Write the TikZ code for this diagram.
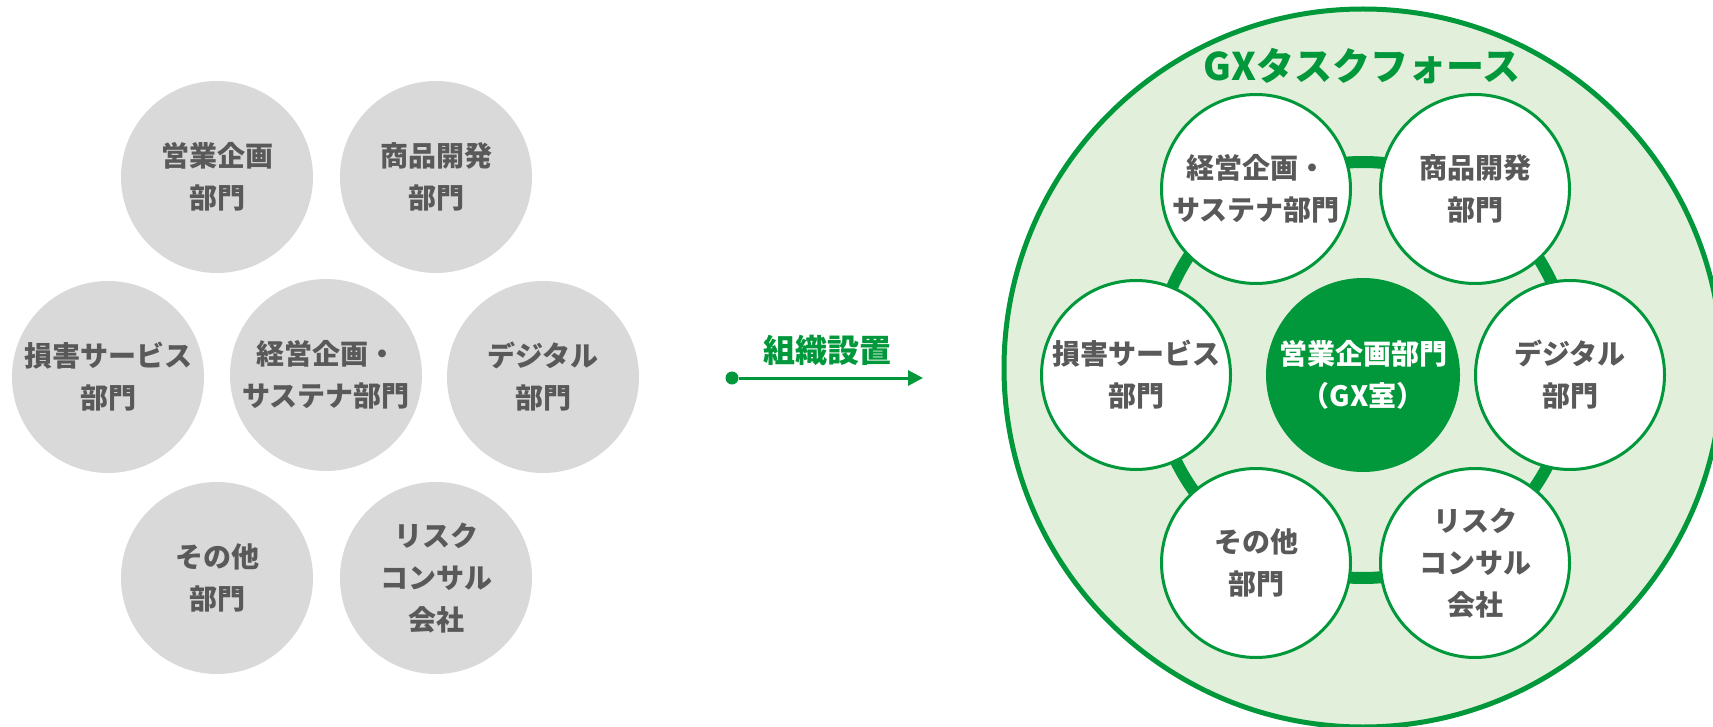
\documentclass[tikz,border=0pt]{standalone}
\usepackage{fontspec}
\setmainfont{Noto Sans CJK JP}
\usetikzlibrary{arrows.meta}
\definecolor{gxgreen}{HTML}{00983A}
\definecolor{gxlight}{HTML}{E2EFDA}
\definecolor{cgray}{HTML}{D9D9D9}
\definecolor{tgray}{HTML}{595959}
\begin{document}
\begin{tikzpicture}[x=1pt,y=-1pt,
  lbl/.style={font=\fontsize{28}{42}\selectfont\bfseries, text=tgray, align=center},
  oldunit/.style={circle, fill=cgray, minimum size=192pt, inner sep=0pt, lbl},
  newunit/.style={circle, draw=gxgreen, line width=3pt, fill=white, minimum size=189pt, inner sep=0pt, lbl},
  core/.style={circle, fill=gxgreen, minimum size=194pt, inner sep=0pt, lbl, text=white},
  ring/.style={draw=gxgreen, line width=12pt},
  team/.style={draw=gxgreen, line width=5pt, fill=gxlight},
  arrowlbl/.style={font=\fontsize{32}{36}\selectfont\bfseries, text=gxgreen},
  titlelbl/.style={font=\fontsize{38}{42}\selectfont\bfseries, text=gxgreen},
]
\useasboundingbox (0,0) rectangle (1713,727);
\clip (0,0) rectangle (1713,727);

% left: before
\node[oldunit] (a1) at (217,177) {営業企画\\部門};
\node[oldunit] (a2) at (436,177) {商品開発\\部門};
\node[oldunit] (a3) at (108,377) {損害サービス\\部門};
\node[oldunit] (a4) at (326,375) {経営企画・\\サステナ部門};
\node[oldunit] (a5) at (543,377) {デジタル\\部門};
\node[oldunit] (a6) at (217,578) {その他\\部門};
\node[oldunit] (a7) at (436,578) {リスク\\コンサル\\会社};

% arrow
\node[circle, fill=gxgreen, minimum size=13pt, inner sep=0pt] (dot) at (732,378) {};
\coordinate (tip) at (923,378);
\draw[gxgreen, line width=3pt, -{Triangle[length=15pt,width=15pt]}] (dot) -- (tip);
\node[arrowlbl] (lab) at (827,350) {組織設置};

% right: after
\path[team] (1363,368) circle[radius=359pt];
\node[titlelbl] (title) at (1362,66) {GXタスクフォース};
\path[ring] (1363,370) circle[radius=208pt];
\node[newunit] (b1) at (1256,189) {経営企画・\\サステナ部門};
\node[newunit] (b2) at (1475,189) {商品開発\\部門};
\node[newunit] (b3) at (1136,375) {損害サービス\\部門};
\node[core] (b0) at (1363,375) {営業企画部門\\（GX室）};
\node[newunit] (b5) at (1570,375) {デジタル\\部門};
\node[newunit] (b6) at (1256,563) {その他\\部門};
\node[newunit] (b7) at (1475,563) {リスク\\コンサル\\会社};
\end{tikzpicture}
\end{document}
